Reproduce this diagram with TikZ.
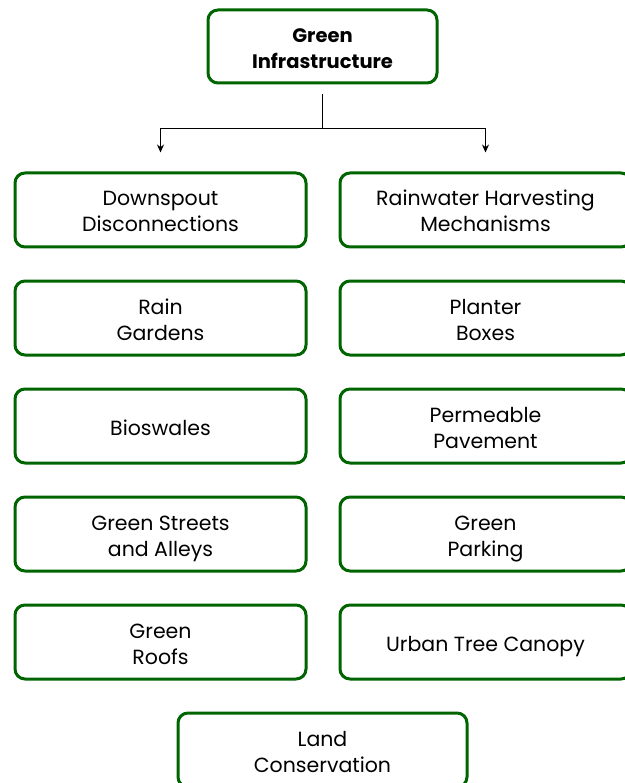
\documentclass[tikz,border=0pt]{standalone}
\usepackage{fontspec}
\setmainfont{Poppins}
\usetikzlibrary{arrows.meta}
\definecolor{gibox}{HTML}{006400}
% each line is a fixed box: 22pt above the baseline, 4pt below
\newcommand\gistrut{\rule[-4pt]{0pt}{26pt}}
\newcommand\gione[1]{\gistrut\smash{#1}}
\newcommand\gitwo[2]{\gione{#1}\\\gione{#2}}
\begin{document}
\begin{tikzpicture}[x=1pt,y=1pt,
  item/.style={draw=gibox, line width=3pt, rounded corners=10pt,
    minimum width=291pt, minimum height=74pt, align=center,
    inner sep=0pt, font=\fontsize{20.5}{26}\selectfont},
  head/.style={item, minimum width=229pt, minimum height=73pt,
    font=\fontsize{19.5}{26}\selectfont\bfseries},
  link/.style={line width=1pt, black},
  tip/.style={-{Stealth[length=8pt,width=7pt]}}]
\useasboundingbox (0,0) rectangle (624,-783);
\node[head] (gi) at (322.5,-46.5) {\gitwo{Green}{Infrastructure}};
% left column
\node[item] (l1) at (160.5,-210) {\gitwo{Downspout}{Disconnections}};
\node[item] (l2) at (160.5,-318) {\gitwo{Rain}{Gardens}};
\node[item] (l3) at (160.5,-426) {\gione{Bioswales}};
\node[item] (l4) at (160.5,-534) {\gitwo{Green Streets}{and Alleys}};
\node[item] (l5) at (160.5,-642) {\gitwo{Green}{Roofs}};
% right column
\node[item] (r1) at (485.5,-210) {\gitwo{Rainwater Harvesting}{Mechanisms}};
\node[item] (r2) at (485.5,-318) {\gitwo{Planter}{Boxes}};
\node[item] (r3) at (485.5,-426) {\gitwo{Permeable}{Pavement}};
\node[item] (r4) at (485.5,-534) {\gitwo{Green}{Parking}};
\node[item] (r5) at (485.5,-642) {\gione{Urban Tree Canopy}};
% bottom
\node[item, minimum width=289pt] (lc) at (322.5,-750) {\gitwo{Land}{Conservation}};
% connectors
\coordinate (hub) at (322.5,-129);
\draw[link, shorten <=10pt] (gi.south) -- (hub);
\draw[link, tip, shorten >=19pt] (hub) -| (l1.north);
\draw[link, tip, shorten >=19pt] (hub) -| (r1.north);
\end{tikzpicture}
\end{document}
